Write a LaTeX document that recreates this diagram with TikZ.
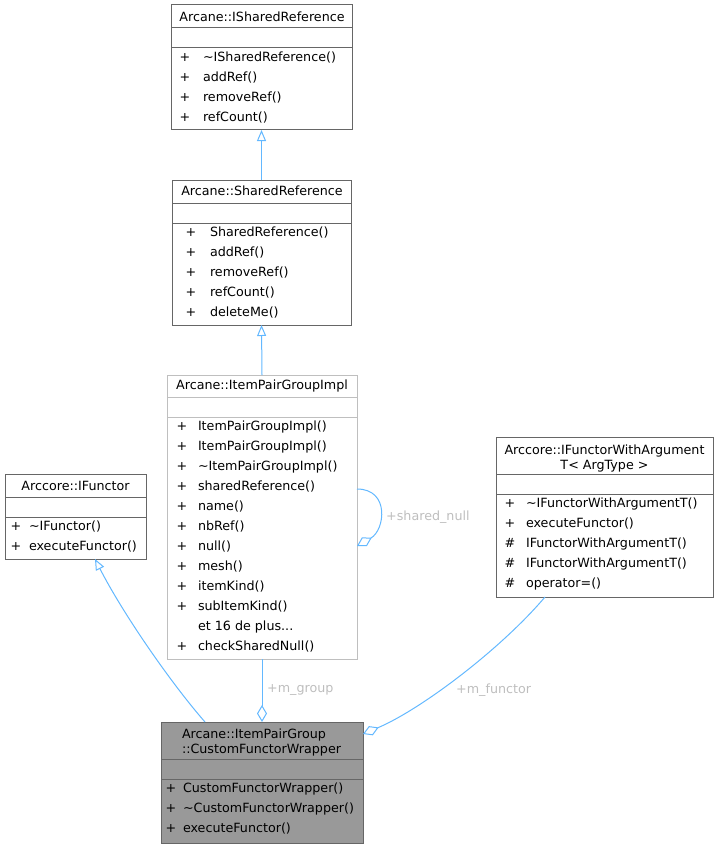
\documentclass[tikz,border=0pt]{standalone}
\usepackage{fontspec}
\setmainfont{DejaVu Sans}
\usetikzlibrary{arrows.meta}
\definecolor{edgec}{HTML}{63B8FF}
\definecolor{lblc}{HTML}{BEBEBE}
\definecolor{bordc}{HTML}{666666}
\definecolor{bordl}{HTML}{BFBFBF}
\definecolor{wfill}{HTML}{999999}
\newcommand\threedots{...}
\newcommand\umlrows[5]{%
  \foreach \s/\m [count=\i from 0] in {#5} {%
    \node[mtxt, anchor=base] (#1-s\i) at (#2,#4+20*\i+4.5) {\s};
    \node[mtxt, anchor=base west] (#1-m\i) at (#3,#4+20*\i+4.5) {\m};
  }}
\begin{document}
\begin{tikzpicture}[x=1pt,y=-1pt,
  font=\fontsize{12.7}{15}\selectfont,
  classbox/.style={draw=bordc, line width=1pt, anchor=north west, inner sep=0pt, outer sep=0pt, fill=white},
  mtxt/.style={inner sep=0pt, outer sep=0pt},
  sepline/.style={draw=bordc, line width=1pt},
  inh/.style={draw=edgec, line width=1pt, -{Triangle[open, length=11pt, width=9pt, fill=white]}},
  agg/.style={draw=edgec, line width=1pt, {Diamond[open, length=17pt, width=10pt, fill=white]}-},
  elabel/.style={text=lblc, inner sep=0pt, anchor=west}]
\useasboundingbox (0,0) rectangle (719,848);

% ISharedReference
\node[classbox, minimum width=181pt, minimum height=125pt] (isr) at (171,5) {};
\node[mtxt] (isr-t) at (262,17) {Arcane::ISharedReference};
\draw[sepline] ([yshift=-23pt]isr.north west) -- ([yshift=-23pt]isr.north east);
\draw[sepline] ([yshift=-43pt]isr.north west) -- ([yshift=-43pt]isr.north east);
\umlrows{isr}{185}{203}{57}{+/\textasciitilde ISharedReference(), +/addRef(), +/removeRef(), +/refCount()}

% SharedReference
\node[classbox, minimum width=179pt, minimum height=145pt] (sr) at (172,180) {};
\node[mtxt] (sr-t) at (262,191) {Arcane::SharedReference};
\draw[sepline] ([yshift=-23pt]sr.north west) -- ([yshift=-23pt]sr.north east);
\draw[sepline] ([yshift=-43pt]sr.north west) -- ([yshift=-43pt]sr.north east);
\umlrows{sr}{191}{210}{232}{+/SharedReference(), +/addRef(), +/removeRef(), +/refCount(), +/deleteMe()}

% ItemPairGroupImpl
\node[classbox, draw=bordl, minimum width=190pt, minimum height=284pt] (ipg) at (167,375) {};
\node[mtxt] (ipg-t) at (262,386) {Arcane::ItemPairGroupImpl};
\draw[sepline, draw=bordl] ([yshift=-22pt]ipg.north west) -- ([yshift=-22pt]ipg.north east);
\draw[sepline, draw=bordl] ([yshift=-42pt]ipg.north west) -- ([yshift=-42pt]ipg.north east);
\umlrows{ipg}{182}{198}{426}{+/ItemPairGroupImpl(), +/ItemPairGroupImpl(), +/\textasciitilde ItemPairGroupImpl(), +/sharedReference(), +/name(), +/nbRef(), +/null(), +/mesh(), +/itemKind(), +/subItemKind(), {}/et 16 de plus\threedots, +/checkSharedNull()}

% IFunctor
\node[classbox, minimum width=141pt, minimum height=85pt] (ifn) at (5,474) {};
\node[mtxt] (ifn-t) at (75.5,486) {Arccore::IFunctor};
\draw[sepline] ([yshift=-23pt]ifn.north west) -- ([yshift=-23pt]ifn.north east);
\draw[sepline] ([yshift=-43pt]ifn.north west) -- ([yshift=-43pt]ifn.north east);
\umlrows{ifn}{16}{29}{526}{+/\textasciitilde IFunctor(), +/executeFunctor()}

% IFunctorWithArgumentT
\node[classbox, minimum width=217pt, minimum height=160pt] (ifa) at (496,437) {};
\node[mtxt, align=center, font=\fontsize{12.7}{15}\selectfont] (ifa-t) at (604.5,458) {Arccore::IFunctorWithArgument\\T< ArgType >};
\draw[sepline] ([yshift=-37pt]ifa.north west) -- ([yshift=-37pt]ifa.north east);
\draw[sepline] ([yshift=-57pt]ifa.north west) -- ([yshift=-57pt]ifa.north east);
\umlrows{ifa}{510}{526}{503}{+/\textasciitilde IFunctorWithArgumentT(), +/executeFunctor(), \#/IFunctorWithArgumentT(), \#/IFunctorWithArgumentT(), \#/operator=()}

% CustomFunctorWrapper
\node[classbox, fill=wfill, minimum width=202pt, minimum height=121pt] (cfw) at (161,722) {};
\node[mtxt, anchor=north west, align=left, font=\fontsize{12.7}{15}\selectfont] (cfw-t) at (182,728.5) {Arcane::ItemPairGroup\\::CustomFunctorWrapper};
\draw[sepline] ([yshift=-37pt]cfw.north west) -- ([yshift=-37pt]cfw.north east);
\draw[sepline] ([yshift=-57pt]cfw.north west) -- ([yshift=-57pt]cfw.north east);
\umlrows{cfw}{171}{183}{788}{+/CustomFunctorWrapper(), +/\textasciitilde CustomFunctorWrapper(), +/executeFunctor()}

% Inheritance
\draw[inh] (sr.north) -- (isr.south);
\draw[inh] (ipg.north) -- (sr.south);
\draw[inh] ([xshift=44pt]cfw.north west) .. controls (170,682) and (122,612) .. ([xshift=90pt]ifn.south west);

% Aggregation
\draw[agg] (cfw.north) -- (ipg.south);
\node[elabel] (lg) at (267,690) {+m\_group};
\draw[agg] ([yshift=-12pt]cfw.north east) .. controls (420,710) and (500,650) .. ([xshift=49pt]ifa.south west);
\node[elabel] (lf) at (456,690) {+m\_functor};
\draw[agg] ([yshift=-29pt]ipg.east) .. controls (385,530) and (390,489) .. ([yshift=28pt]ipg.east);
\node[elabel] (ln) at (386,517) {+shared\_null};
\end{tikzpicture}
\end{document}
